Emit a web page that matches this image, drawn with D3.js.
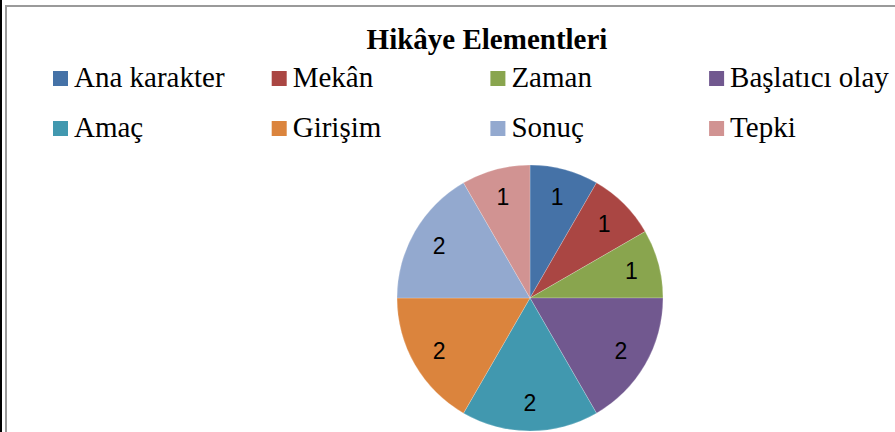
<!DOCTYPE html>
<html>
<head>
<meta charset="utf-8">
<script src="https://cdn.jsdelivr.net/npm/d3@7"></script>
<style>
html,body{margin:0;padding:0;background:#fff;}
svg{display:block;}
</style>
</head>
<body>
<svg id="chart" width="895" height="432"></svg>
<script>
const title = "Hikâye Elementleri";
const categories = ["Ana karakter", "Mekân", "Zaman", "Başlatıcı olay", "Amaç", "Girişim", "Sonuç", "Tepki"];
const values = [1, 1, 1, 2, 2, 2, 2, 1];
const palette = ["#4572A7", "#AA4643", "#89A54E", "#71588F", "#4198AF", "#DB843D", "#93A9CF", "#D19392"];

const W = 895, H = 432;
const svg = d3.select("#chart");

// outer frame
svg.append("rect").attr("x", 0).attr("y", 0).attr("width", 2).attr("height", H).attr("fill", "#000");
svg.append("rect").attr("x", 6).attr("y", 6).attr("width", W + 20).attr("height", H + 20)
  .attr("fill", "none").attr("stroke", "#9a9a9a").attr("stroke-width", 2);

// title
svg.append("text").attr("x", 487).attr("y", 49).attr("text-anchor", "middle")
  .attr("font-family", "'Liberation Serif', 'Times New Roman', serif")
  .attr("font-weight", "bold").attr("font-size", 29).attr("fill", "#000").text(title);

// legend
const color = d3.scaleOrdinal().domain(categories).range(palette);
const perRow = 4;
const legend = svg.append("g");
categories.forEach((c, i) => {
  const col = i % perRow, row = Math.floor(i / perRow);
  const x = 53 + col * 218.7, y = 71 + row * 50;
  const g = legend.append("g").attr("transform", `translate(${x},${y})`);
  g.append("rect").attr("width", 15).attr("height", 15).attr("fill", color(c));
  g.append("text").attr("x", 21).attr("y", 16)
    .attr("font-family", "'Liberation Serif', 'Times New Roman', serif")
    .attr("font-size", 29).attr("fill", "#000").text(c);
});

// pie
const cx = 530, cy = 298, R = 133;
const pie = d3.pie().value(d => d.v).sort(null);
const arcs = pie(categories.map((c, i) => ({c, v: values[i]})));
const arc = d3.arc().innerRadius(0).outerRadius(R);
const labelArc = d3.arc().innerRadius(105).outerRadius(105);
const pg = svg.append("g").attr("transform", `translate(${cx},${cy})`);
pg.selectAll("path").data(arcs).join("path")
  .attr("d", arc).attr("fill", d => color(d.data.c))
  .attr("stroke", "rgba(255,255,255,0.35)").attr("stroke-width", 0.6);
pg.selectAll("text").data(arcs).join("text")
  .attr("transform", d => `translate(${labelArc.centroid(d)})`)
  .attr("text-anchor", "middle").attr("dy", "0.36em")
  .attr("font-family", "'Liberation Sans', Arial, sans-serif")
  .attr("font-size", 23).attr("fill", "#000")
  .text(d => d.data.v);
</script>
</body>
</html>
